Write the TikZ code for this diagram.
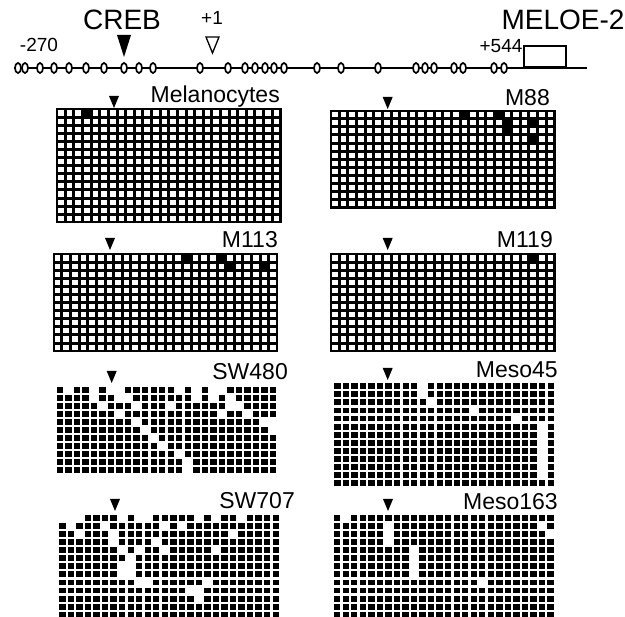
\documentclass[tikz,border=0pt]{standalone}
\usepackage{fontspec}
\setmainfont{Liberation Sans}
\usetikzlibrary{shapes.geometric}
\newcount\gridcol
\newcount\gridrow
\def\gx{0}\def\gy{0}\def\gcw{8.6}\def\gch{8.1}\def\gins{1.2}\def\gtgt{1}\def\gtcol{black}
\def\drawrow#1{\global\gridcol=0 \drawrowi#1\relax\global\advance\gridrow by 1 }
\def\drawrowi#1{\ifx#1\relax\else\drawcell#1\global\advance\gridcol by 1 \expandafter\drawrowi\fi}
\def\drawcell#1{\if#1\gtgt\fill[\gtcol] ({\gx+\the\gridcol*\gcw+\gins},{\gy+\the\gridrow*\gch+\gins}) rectangle ++({\gcw-2*\gins},{\gch-2*\gins});\fi}
\newcommand\mgrid[5]{%
  \def\gx{#1}\def\gy{#2}%
  \global\gridrow=0
  \if#4w%
    \def\gcw{8.62}\def\gch{8.1}\def\gins{1.5}\def\gtgt{0}\def\gtcol{white}%
    \fill[black] ({#1-0.7},{#2-0.7}) rectangle ({#1+26*8.62+0.7},{#2+#3*8.1+0.7});%
  \else
    \def\gcw{8.53}\def\gch{8.07}\def\gins{1.1}\def\gtgt{1}\def\gtcol{black}%
  \fi
  \foreach \s in {#5}{\edef\tmprow{\s}\expandafter\drawrow\expandafter{\tmprow}}%
}
\def\Z{00000000000000000000000000}
\def\F{11111111111111111111111111}
\tikzset{
  lbl/.style={anchor=east,inner sep=0pt,font=\fontsize{23}{23}\selectfont},
  small/.style={inner sep=0pt,font=\fontsize{19}{19}\selectfont},
  big/.style={inner sep=0pt,font=\fontsize{28}{28}\selectfont},
  cpg/.style={draw=black,fill=white,line width=1.7pt,ellipse,minimum width=6pt,minimum height=10pt,inner sep=0pt},
}
\newcommand\tri[2]{\fill[black] ({#1-5},{#2}) -- ({#1+5},{#2}) -- ({#1},{#2+12}) -- cycle;}
\begin{document}
\begin{tikzpicture}[x=1pt,y=-1pt]
\useasboundingbox (0,0) rectangle (625,617);
% top map
\coordinate (L0) at (14,68);
\coordinate (L1) at (587,68);
\draw[line width=2.8pt] (L0) -- (L1);
\node[draw,line width=1.5pt,minimum width=42pt,minimum height=21pt,inner sep=0pt,anchor=south west] (box) at (523,68) {};
\foreach \p [count=\i] in {18,25,40,54,69,86,104,124,139,153,200,228,245,255,265,274,284,317,341,378,416,425,434,454,463,494,504}
  \node[cpg] (c\i) at (\p,68) {};
\node[big] (creb) at (122,20) {CREB};
\fill[black] (117,35) -- (131,35) -- (124,57) -- cycle;
\node[small] (p1) at (212,18) {+1};
\draw[line width=1.3pt] (206,37) -- (219,37) -- (212.5,53) -- cycle;
\node[small] (m270) at (39,45) {-270};
\node[small] (p544) at (501,46) {+544};
\node[big] (meloe) at (563,20) {MELOE-2};
% grids
\node[lbl] (t1) at (280,97) {Melanocytes};
\tri{114}{96}
\mgrid{56.7}{109}{14}{w}{00010000000000000000000000,\Z,\Z,\Z,\Z,\Z,\Z,\Z,\Z,\Z,\Z,\Z,\Z,\Z}
\node[lbl] (t2) at (550,98) {M88};
\tri{387.7}{97}
\mgrid{330.7}{110.7}{12}{w}{00000000000000010001000000,00000000000000000000100100,00000000000000000000100000,00000000000000000000000100,\Z,\Z,\Z,\Z,\Z,\Z,\Z,\Z}
\node[lbl] (t3) at (278,240) {M113};
\tri{110}{238}
\mgrid{53.3}{254}{12}{w}{00000000000000010001000000,00000000000000000000100010,\Z,\Z,\Z,\Z,\Z,\Z,\Z,\Z,\Z,\Z}
\node[lbl] (t4) at (553,240) {M119};
\tri{387.7}{238}
\mgrid{330.7}{254}{12}{w}{00000000000000000000000100,\Z,\Z,\Z,\Z,\Z,\Z,\Z,\Z,\Z,\Z,\Z}
\node[lbl] (t5) at (288,372) {SW480};
\tri{111.7}{371}
\mgrid{55.6}{385.6}{11}{b}{10110100111111010100111111,11110110011111110101011111,11111011101110111111001111,11111110111111111110110111,11111111101111111111111100,11111111110111111111111110,11111111111011111111111111,11111111111101111111111111,11111111111111011111111111,11111111111111101111111111,11111111111111101111111111}
\node[lbl] (t6) at (558,370) {Meso45};
\tri{387.7}{368}
\mgrid{333.2}{382.2}{13}{b}{11111111110111111111111111,11111111110111111111111111,11111111111011111111111111,11111111111111110111111111,11111111111111111111101111,11111111111111111111111101,11111111111111111111111101,11111111111111111111111101,11111111111111111111111101,11111111111111111111111101,11111111111111111111111101,11111111111111111111111101,\F}
\node[lbl] (t7) at (295,501) {SW707};
\tri{115}{499}
\mgrid{58.2}{513.9}{13}{b}{00011110100111110101101111,10111011111101011111111111,11011101111111111111011111,11111101111011111111111111,11111110101101111101111111,11111111011111111111111111,11111110011111111111111111,11111110011111111111111111,11111111100111111011111111,11111111111111100111111111,11111111111111110111111111,\F,\F}
\node[lbl] (t8) at (558,502) {Meso163};
\tri{388}{499}
\mgrid{333}{513.9}{13}{b}{10111111111111111111111111,11111101111111111111111101,11111101111111111111111110,11111101111111111111111111,11111111101111111111111111,11111111101111111111111111,11111111101111111111111111,11111111101111111111111111,11111111111111111011111111,11111111111111111111111111,\F,\F,\F}
\end{tikzpicture}
\end{document}
